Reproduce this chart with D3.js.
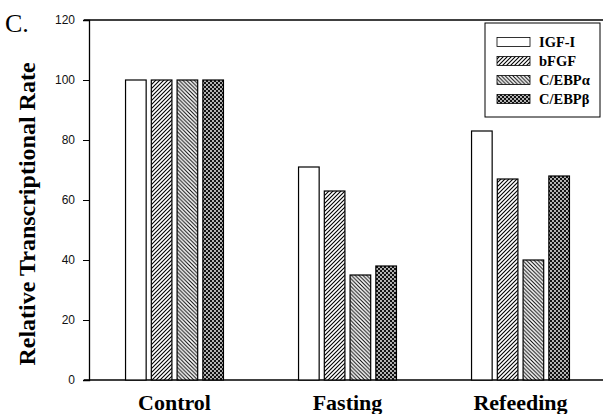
<!DOCTYPE html>
<html><head><meta charset="utf-8">
<script src="https://cdn.jsdelivr.net/npm/d3@7"></script>
<style>body{margin:0;background:#fff}svg{display:block}</style>
</head><body><svg id="c" width="603" height="414"></svg>
<script>
const categories = ["Control", "Fasting", "Refeeding"];
const seriesNames = ["IGF-I", "bFGF", "C/EBPα", "C/EBPβ"];
const igf1 = [100, 71, 83];
const bfgf = [100, 63, 67];
const cebpa = [100, 35, 40];
const cebpb = [100, 38, 68];
const yTicks = [0, 20, 40, 60, 80, 100, 120];
const seriesValues = [igf1, bfgf, cebpa, cebpb];

const svg = d3.select("#c");
const defs = svg.append("defs");
const fills = ["#fff", "url(#pB)", "url(#pA)", "url(#pC)"];

// bFGF: forward hatch
let p = defs.append("pattern").attr("id","pB").attr("patternUnits","userSpaceOnUse").attr("width",4).attr("height",4);
p.append("rect").attr("width",4).attr("height",4).attr("fill","#fff");
p.append("path").attr("d","M-1,1 l2,-2 M0,4 l4,-4 M3,5 l2,-2").attr("stroke","#000").attr("stroke-width",1.1);
// C/EBPa: back hatch
p = defs.append("pattern").attr("id","pA").attr("patternUnits","userSpaceOnUse").attr("width",3.8).attr("height",3.8);
p.append("rect").attr("width",3.8).attr("height",3.8).attr("fill","#fff");
p.append("path").attr("d","M-1,2.8 l2,2 M0,0 l3.8,3.8 M2.8,-1 l2,2").attr("stroke","#000").attr("stroke-width",1);
// C/EBPb: checker dots
p = defs.append("pattern").attr("id","pC").attr("patternUnits","userSpaceOnUse").attr("width",4).attr("height",4);
p.append("rect").attr("width",4).attr("height",4).attr("fill","#111");
p.append("circle").attr("cx",1).attr("cy",1).attr("r",0.9).attr("fill","#fff");
p.append("circle").attr("cx",3).attr("cy",3).attr("r",0.9).attr("fill","#fff");

const y = d3.scaleLinear().domain([0,120]).range([380,20]);
const x0 = d3.scaleBand().domain(categories).range([88,607]).paddingInner(0.434).paddingOuter(0.217);
const x1 = d3.scaleBand().domain(seriesNames).range([0, x0.bandwidth()]).paddingInner(0.2);

// frame lines
svg.append("line").attr("x1",84).attr("x2",603).attr("y1",y(120)).attr("y2",y(120)).attr("stroke","#000").attr("stroke-width",1.3);
svg.append("line").attr("x1",84).attr("x2",603).attr("y1",y(0)).attr("y2",y(0)).attr("stroke","#000").attr("stroke-width",1.3);

const ax = svg.append("g").attr("transform","translate(89,0)")
  .call(d3.axisLeft(y).tickValues(yTicks).tickSize(6).tickPadding(8).tickFormat(d3.format("d")));
ax.select(".domain").attr("stroke-width",1.3);
ax.selectAll("text").attr("font-family","'Liberation Sans', Arial, sans-serif").attr("font-size",12).attr("fill","#111");

const g = svg.append("g");
categories.forEach((c, ci) => {
  seriesNames.forEach((s, si) => {
    const v = seriesValues[si][ci];
    g.append("rect")
      .attr("x", x0(c) + x1(s))
      .attr("y", y(v))
      .attr("width", x1.bandwidth())
      .attr("height", y(0) - y(v))
      .attr("fill", fills[si])
      .attr("stroke", "#000").attr("stroke-width", 1.2);
  });
});

svg.append("g").selectAll("text").data(categories).join("text")
  .attr("x", d => x0(d) + x0.bandwidth()/2).attr("y", 410)
  .attr("text-anchor","middle")
  .attr("font-family","'Liberation Serif', 'Times New Roman', serif").attr("font-weight","bold").attr("font-size",22)
  .text(d => d);

svg.append("text").attr("transform","translate(35,214) rotate(-90)")
  .attr("text-anchor","middle")
  .attr("font-family","'Liberation Serif', 'Times New Roman', serif").attr("font-weight","bold").attr("font-size",24)
  .text("Relative Transcriptional Rate");

svg.append("text").attr("x",5).attr("y",32)
  .attr("font-family","'Liberation Serif', 'Times New Roman', serif").attr("font-size",26)
  .text("C.");

// legend
const lg = svg.append("g");
lg.append("rect").attr("x",485).attr("y",23).attr("width",115).attr("height",94).attr("fill","#fff").attr("stroke","#000").attr("stroke-width",1);
seriesNames.forEach((s, i) => {
  const yy = 37.5 + i*19;
  lg.append("rect").attr("x",497).attr("y",yy).attr("width",33).attr("height",9).attr("fill",fills[i]).attr("stroke","#000").attr("stroke-width",0.8);
  lg.append("text").attr("x",539).attr("y",yy+9.5)
    .attr("font-family","'Liberation Serif', 'Times New Roman', serif").attr("font-weight","bold").attr("font-size",14.5)
    .text(s);
});
</script></body></html>
